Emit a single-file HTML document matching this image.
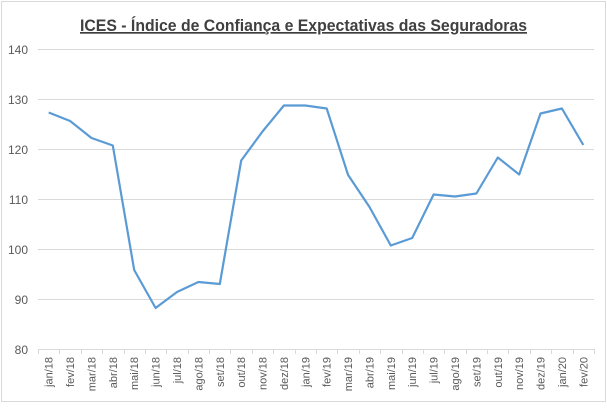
<!DOCTYPE html>
<html><head><style>body{margin:0;background:#fff}</style></head><body>
<svg width="607" height="403" xmlns="http://www.w3.org/2000/svg" font-family="Liberation Sans, sans-serif">
<rect x="1.5" y="1.5" width="604" height="400" fill="#fff" stroke="#d9d9d9"/>
<text x="80" y="31" font-size="17" font-weight="bold" fill="#404040" text-decoration="underline" textLength="447" lengthAdjust="spacingAndGlyphs">ICES - Índice de Confiança e Expectativas das Seguradoras</text>
<g stroke="#d9d9d9" stroke-width="1">
<line x1="38" x2="594" y1="49.5" y2="49.5"/><line x1="38" x2="594" y1="99.5" y2="99.5"/>
<line x1="38" x2="594" y1="149.5" y2="149.5"/><line x1="38" x2="594" y1="199.5" y2="199.5"/>
<line x1="38" x2="594" y1="249.5" y2="249.5"/><line x1="38" x2="594" y1="299.5" y2="299.5"/>
<line x1="38" x2="594" y1="349.5" y2="349.5"/>
</g>
<g font-size="12" fill="#595959" text-anchor="end">
<text x="28" y="54">140</text><text x="28" y="104">130</text><text x="28" y="154">120</text>
<text x="28" y="204">110</text><text x="28" y="254">100</text><text x="28" y="304">90</text><text x="28" y="354">80</text>
</g>
<g id="ticks" stroke="#d9d9d9"></g>
<g id="labels" font-size="11" fill="#595959"></g>
<polyline id="line" fill="none" stroke="#5b9bd5" stroke-width="2.2" stroke-linejoin="round"/>
</svg>
<script>
var v=[127.3,125.6,122.2,120.7,95.8,88.2,91.4,93.4,93.0,117.7,123.5,128.7,128.7,128.1,114.8,108.4,100.7,102.2,110.9,110.5,111.1,118.3,114.9,127.1,128.1,120.8];
var l=["jan/18","fev/18","mar/18","abr/18","mai/18","jun/18","jul/18","ago/18","set/18","out/18","nov/18","dez/18","jan/19","fev/19","mar/19","abr/19","mai/19","jun/19","jul/19","ago/19","set/19","out/19","nov/19","dez/19","jan/20","fev/20"];
var w=(594-38)/26,p=[],t="",s="";
for(var i=0;i<26;i++){var x=38+w*(i+.5);p.push(x.toFixed(1)+","+(349-(v[i]-80)*5).toFixed(1));
s+='<text transform="translate('+(x+4)+',357) rotate(-90)" text-anchor="end">'+l[i]+'</text>';}
for(var i=0;i<=26;i++){var x=Math.round(38+w*i)+.5;t+='<line x1="'+x+'" x2="'+x+'" y1="349" y2="354"/>';}
document.getElementById('line').setAttribute('points',p.join(' '));
document.getElementById('ticks').innerHTML=t;document.getElementById('labels').innerHTML=s;
</script>
</body></html>
